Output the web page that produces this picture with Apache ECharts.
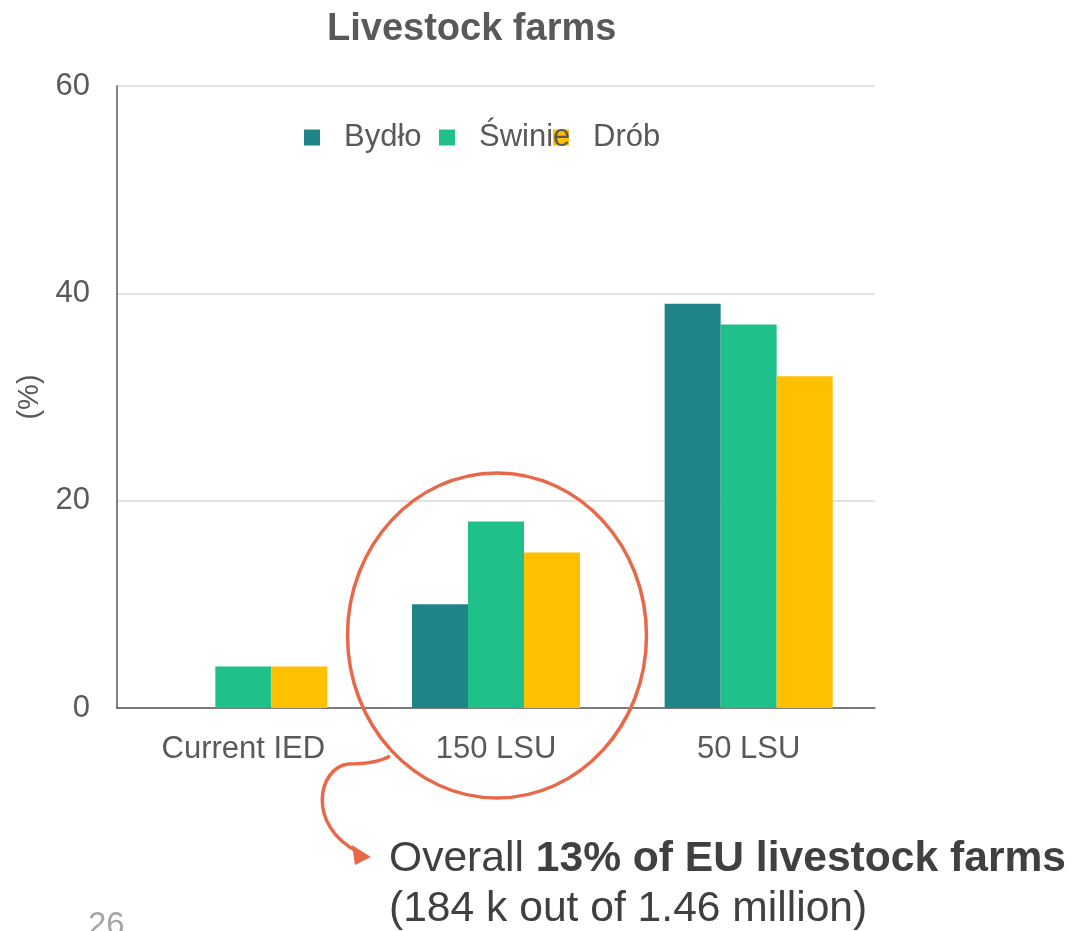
<!DOCTYPE html>
<html><head><meta charset="utf-8">
<script src="https://cdn.jsdelivr.net/npm/echarts@6/dist/echarts.min.js"></script>
<style>html,body{margin:0;padding:0;background:#fff}#c{width:1071px;height:931px}</style>
</head><body><div id="c"></div>
<script>
const categories = ['Current IED', '150 LSU', '50 LSU'];
const seriesNames = ['Bydło', 'Świnie', 'Drób'];
const bydlo = [0, 10, 39];
const swinie = [4, 18, 37];
const drob = [4, 15, 32];
const yTicks = [0, 20, 40, 60];
const colors = ['#1F8589', '#20C08A', '#FFC000'];
const FONT = 'Liberation Sans, Arial, sans-serif';

const chart = echarts.init(document.getElementById('c'));
const legendLefts = [304, 439, 553];
const legendZ = [10, 20, 2];
const option = {
  animation: false,
  color: colors,
  textStyle: { fontFamily: FONT },
  title: {
    text: 'Livestock farms', left: 322, top: 6,
    textStyle: { fontSize: 38, fontWeight: 'bold', color: '#595959', fontFamily: FONT }
  },
  legend: seriesNames.map((n, i) => ({
    data: [n], left: legendLefts[i], top: 122, padding: 0, icon: 'rect', itemWidth: 16, itemHeight: 16,
    textStyle: { fontSize: 31, color: '#595959', padding: [0, 0, 0, 19], fontFamily: FONT },
    z: legendZ[i]
  })),
  grid: { left: 117, right: 196, top: 86, bottom: 223 },
  xAxis: {
    type: 'category', data: categories,
    axisTick: { show: false },
    axisLine: { lineStyle: { color: '#595959', width: 1.5 } },
    axisLabel: { fontSize: 31, color: '#595959', margin: 26, fontFamily: FONT }
  },
  yAxis: {
    type: 'value', min: yTicks[0], max: yTicks[yTicks.length - 1], interval: 20,
    name: '(%)', nameLocation: 'middle', nameGap: 67, nameRotate: 90,
    nameTextStyle: { fontSize: 29, color: '#595959', fontFamily: FONT },
    axisLine: { show: true, lineStyle: { color: '#595959', width: 1.5 } },
    axisTick: { show: false },
    axisLabel: { fontSize: 31, color: '#595959', margin: 27, fontFamily: FONT },
    splitLine: { lineStyle: { color: '#D9D9D9', width: 1.5 } }
  },
  series: [
    { name: seriesNames[0], type: 'bar', data: bydlo, barGap: '0%', barCategoryGap: '33.5%' },
    { name: seriesNames[1], type: 'bar', data: swinie, barGap: '0%', barCategoryGap: '33.5%' },
    { name: seriesNames[2], type: 'bar', data: drob, barGap: '0%', barCategoryGap: '33.5%' }
  ]
};
chart.setOption(option);

const cx = chart.convertToPixel({ xAxisIndex: 0 }, categories[1]);
const ac = '#E8694A';
chart.setOption({
  graphic: [
    { type: 'ellipse', shape: { cx: cx + 1, cy: 635.5, rx: 149.5, ry: 162.5 },
      style: { fill: 'none', stroke: ac, lineWidth: 3.5 }, z: 100 },
    { type: 'bezierCurve', shape: { x1: 390, y1: 756, cpx1: 378, cpy1: 763, cpx2: 362, cpy2: 764, x2: 348, y2: 764 },
      style: { fill: 'none', stroke: ac, lineWidth: 3.5 }, z: 100 },
    { type: 'bezierCurve', shape: { x1: 348, y1: 764, cpx1: 318, cpy1: 768, cpx2: 306, cpy2: 825, x2: 358, y2: 852 },
      style: { fill: 'none', stroke: ac, lineWidth: 3.5 }, z: 100 },
    { type: 'polygon', shape: { points: [[371, 857], [352, 845], [355, 865]] },
      style: { fill: ac }, z: 100 },
    { type: 'text', left: 389, top: 838,
      style: { rich: { n: { fontSize: 42.6, fontFamily: FONT, fill: '#404040' }, b: { fontSize: 42.6, fontFamily: FONT, fill: '#404040', fontWeight: 'bold' } },
        text: '{n|Overall }{b|13% of EU livestock farms}' } },
    { type: 'text', left: 389, top: 888,
      style: { text: '(184 k out of 1.46 million)', fontSize: 42.6, fontFamily: FONT, fill: '#404040' } },
    { type: 'text', left: 88, top: 909,
      style: { text: '26', fontSize: 33, fontFamily: FONT, fill: '#A6A6A6' } }
  ]
});
</script></body></html>
